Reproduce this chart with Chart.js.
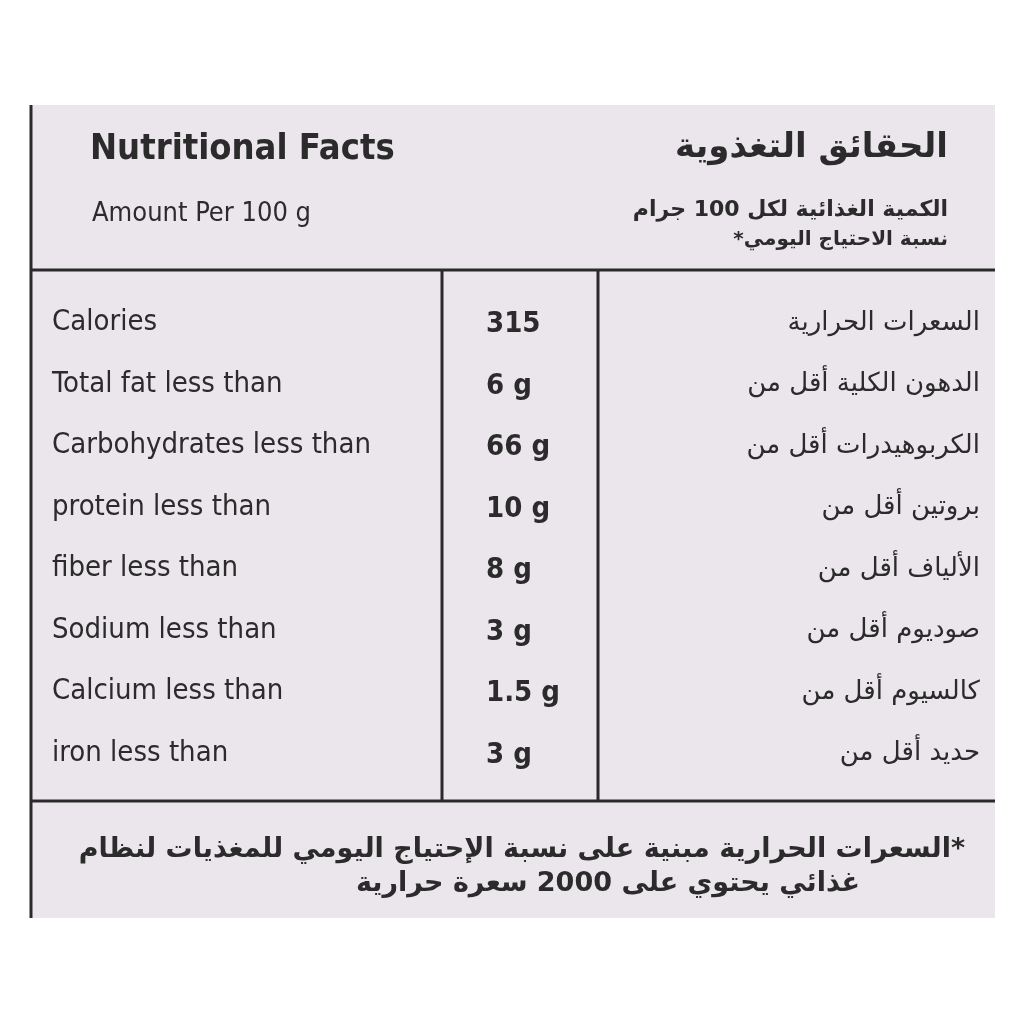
<!DOCTYPE html><html><head><meta charset="utf-8">
<script src="https://cdn.jsdelivr.net/npm/chart.js@4/dist/chart.umd.min.js"></script>
<style>html,body{margin:0;background:#fff}#w{width:1024px;height:1024px}</style></head>
<body><div id="w"><canvas id="c"></canvas></div>
<script>
const nutrients=["Calories","Total fat less than","Carbohydrates less than","protein less than","fiber less than","Sodium less than","Calcium less than","iron less than"];
const amounts=["315","6 g","66 g","10 g","8 g","3 g","1.5 g","3 g"];
const arabicNames=["السعرات الحرارية","الدهون الكلية أقل من","الكربوهيدرات أقل من","بروتين أقل من","الألياف أقل من","صوديوم أقل من","كالسيوم أقل من","حديد أقل من"];
const amountValues=[315,6,66,10,8,3,1.5,3];
const titleEn="Nutritional Facts", subEn="Amount Per 100 g";
const titleAr="الحقائق التغذوية", subAr1="الكمية الغذائية لكل 100 جرام", subAr2="نسبة الاحتياج اليومي*";
const footAr1="*السعرات الحرارية مبنية على نسبة الإحتياج اليومي للمغذيات لنظام", footAr2="غذائي يحتوي على 2000 سعرة حرارية";
const F='"DejaVu Sans Condensed","DejaVu Sans",sans-serif';
const label={id:'label',beforeDraw(ch){const c=ch.ctx;c.save();
c.fillStyle='#ebe6ec';c.fillRect(30,105,965,813);
c.strokeStyle='#2a2a2a';c.lineWidth=3;
c.beginPath();c.moveTo(31,105);c.lineTo(31,918);c.stroke();
c.beginPath();c.moveTo(30,270);c.lineTo(995,270);c.moveTo(30,801);c.lineTo(995,801);
c.moveTo(442,270);c.lineTo(442,801);c.moveTo(598,270);c.lineTo(598,801);c.stroke();
c.fillStyle='#2b2b2b';c.textBaseline='middle';
c.textAlign='left';c.font='600 36px '+F;c.fillText(titleEn,90,150);
c.font='500 27px '+F;c.fillText(subEn,92,214);
c.textAlign='right';c.direction='rtl';c.font='bold 34px "DejaVu Sans",sans-serif';c.fillText(titleAr,948,148);
c.font='bold 22px "DejaVu Sans",sans-serif';c.fillText(subAr1,948,210);c.font='bold 20px "DejaVu Sans",sans-serif';c.fillText(subAr2,948,240);
c.font='bold 27px "DejaVu Sans",sans-serif';c.fillText(footAr1,965,850);c.fillText(footAr2,860,884);
const y=ch.scales.y;
nutrients.forEach((n,i)=>{const py=y.getPixelForValue(i);
c.direction='ltr';c.textAlign='left';c.font='500 29px '+F;c.fillText(n,52,py);
c.textAlign='left';c.font='600 29px '+F;c.fillText(amounts[i],486,py+2);
c.direction='rtl';c.textAlign='right';c.font='26px "DejaVu Sans",sans-serif';c.fillText(arabicNames[i],980,py);});
c.restore();}};
new Chart(document.getElementById('c'),{type:'bar',data:{labels:nutrients,datasets:[{data:amountValues.map(()=>0),backgroundColor:'rgba(0,0,0,0)'}]},
options:{indexAxis:'y',responsive:true,maintainAspectRatio:false,animation:false,
layout:{padding:{top:292,bottom:240,left:30,right:29}},
plugins:{legend:{display:false},tooltip:{enabled:false}},
scales:{y:{display:false,offset:true},x:{display:false}}},plugins:[label]});
</script></body></html>
